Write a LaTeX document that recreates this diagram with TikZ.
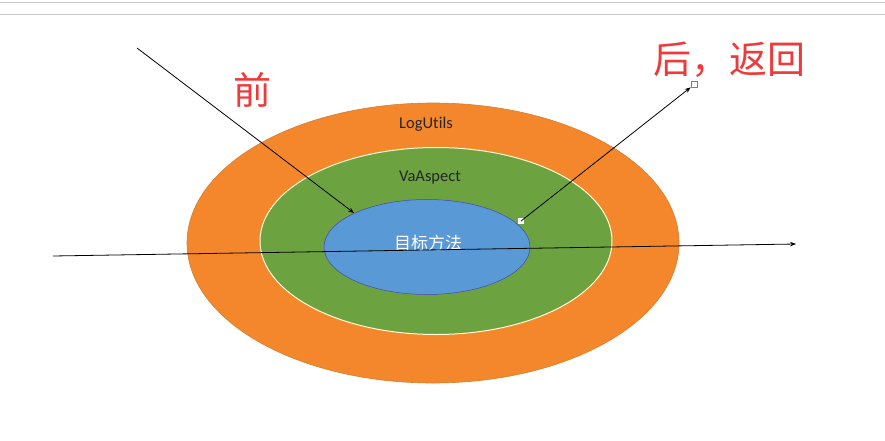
\documentclass[tikz,border=0pt]{standalone}
\usepackage{fontspec}
\setmainfont{Carlito}[Ligatures=NoCommon]
\newfontfamily\cjk{Noto Sans CJK SC}
\usetikzlibrary{shapes.geometric,arrows.meta}
\definecolor{ringorange}{RGB}{244,135,43}
\definecolor{ringgreen}{RGB}{108,163,64}
\definecolor{coreblue}{RGB}{88,153,214}
\definecolor{labelred}{RGB}{238,58,58}
\begin{document}
\begin{tikzpicture}[x=1pt, y=-1pt,
  every node/.style={inner sep=0pt},
  ring/.style ={draw, ellipse},
  ringtext/.style={text=black!85, font=\fontsize{16.5}{16.5}\selectfont},
  redlabel/.style={text=labelred, font=\cjk\fontsize{38}{38}\selectfont},
  arr/.style  ={-{Stealth[length=6pt,width=4.5pt]}, line width=0.8pt},
  handle/.style={draw=gray, fill=white, minimum size=6pt, line width=0.6pt}]

\useasboundingbox (0,0) rectangle (885,441);
\fill[white] (0,0) rectangle (885,441);
\draw[gray!45, line width=1.2pt] (0,2.3) -- (885,2.3);
\draw[gray!45, line width=1.2pt] (0,14.3) -- (885,14.3);

% nested layers
\node[ring, fill=ringorange, draw=brown!70!orange, line width=0.6pt,
      minimum width=492pt, minimum height=280pt] (logutils) at (433,243) {};
\node[ring, fill=ringgreen, draw=yellow!15, line width=1pt,
      minimum width=352pt, minimum height=187pt] (vaaspect) at (436,241) {};
\node[ring, fill=coreblue, draw=blue!45!gray, line width=0.5pt,
      minimum width=206pt, minimum height=95pt] (target) at (427,247) {};

\node[ringtext] (logtext) at (426,124) {LogUtils};
\node[ringtext] (vatext)  at (430,178) {VaAspect};
\node[text=white, font=\cjk\fontsize{17}{17}\selectfont] (targettext) at (428,243) {目标方法};

% labels
\node[redlabel] (before) at (252,90) {前};
\node[redlabel] (after)  at (729,60) {后，返回};

% calls
\coordinate (inStart) at (137,48);
\coordinate (inEnd)   at (354,213);
\draw[arr] (inStart) -- (inEnd);

\coordinate (lineStart) at (53,256);
\coordinate (lineEnd)   at (796,244);
\draw[arr] (lineStart) -- (lineEnd);

\node[handle, draw=none, minimum size=5.5pt] (outStart) at (521,221) {};
\node[handle, minimum size=6pt] (outEnd) at (694,84) {};
\draw[arr] (outStart.center) -- (outEnd.south west);
\end{tikzpicture}
\end{document}
